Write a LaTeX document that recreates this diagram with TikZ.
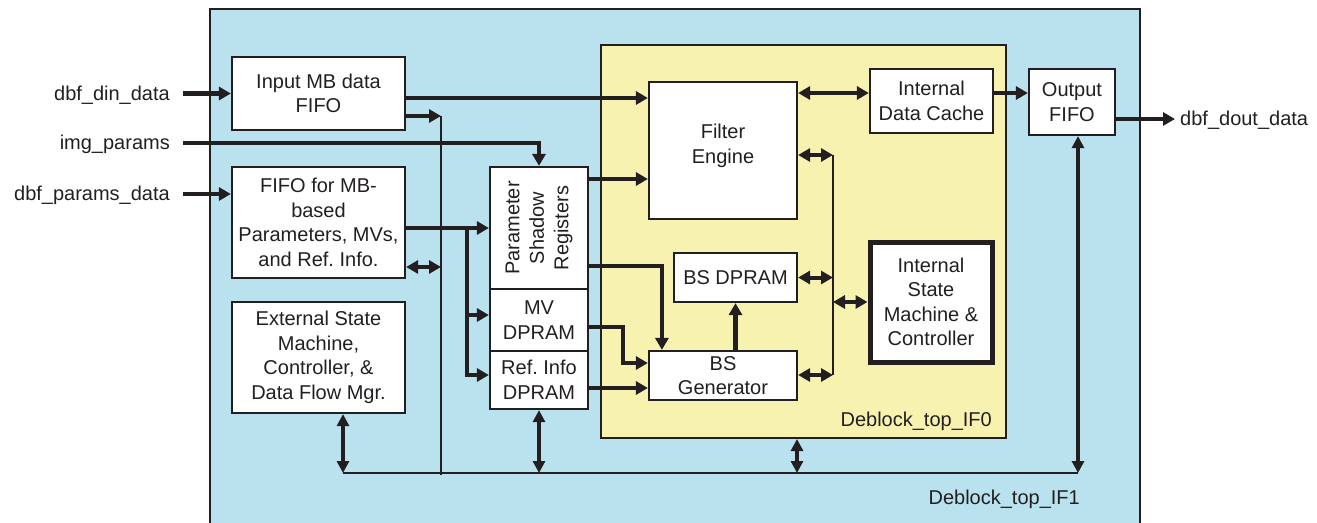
\documentclass[tikz,border=0pt]{standalone}
\usepackage{fontspec}
\setmainfont{Liberation Sans}
\usetikzlibrary{arrows.meta, positioning, calc}
\definecolor{ink}{RGB}{35,31,32}
\definecolor{ifblue}{RGB}{185,226,238}
\definecolor{ifyellow}{RGB}{247,242,176}
\newcommand{\boxfont}{\fontsize{20}{24.5}\selectfont\frenchspacing}
\tikzset{
  box/.style   = {draw=ink, line width=2.2pt, fill=white, align=center,
                  inner sep=0pt, font=\boxfont, text=ink},
  heavy/.style = {box, line width=5pt},
  frame/.style = {draw=ink, line width=2pt, inner sep=0pt},
  sig/.style   = {-{Triangle[length=12pt,width=13pt]}, line width=4.5pt, draw=ink},
  dsig/.style  = {{Triangle[length=12pt,width=13pt]}-{Triangle[length=12pt,width=13pt]},
                  line width=4pt, draw=ink},
  bsig/.style  = {{Triangle[length=12pt,width=12pt]}-{Triangle[length=12pt,width=12pt]},
                  line width=3.2pt, draw=ink},
  wire/.style  = {line width=2.5pt, draw=ink},
  lab/.style   = {font=\boxfont, text=ink, inner sep=0pt},
}

\begin{document}
\begin{tikzpicture}[x=1pt, y=-1pt]
  \useasboundingbox (0,0) rectangle (1317,522);

  % interface frames
  \node[frame, fill=ifblue, minimum width=930, minimum height=530, anchor=north west] (if1) at (209,8) {};
  \node[frame, fill=ifyellow, minimum width=405, minimum height=393, anchor=north west] (if0) at (600,44) {};
  \node[lab, anchor=base east] (if0lab) at (992,426) {Deblock\_top\_IF0};
  \node[lab, anchor=base east] (if1lab) at (1080,504) {Deblock\_top\_IF1};

  % blocks
  \node[box, minimum width=173, minimum height=73] (inmb) at (318.5,93.5) {Input MB data\\FIFO};
  \node[box, minimum width=173, minimum height=111] (mbfifo) at (318.5,222.5)
    {FIFO for MB-\\based\\Parameters, MVs,\\and Ref. Info.};
  \node[box, minimum width=173, minimum height=111] (extsm) at (318.5,357.5)
    {External State\\Machine,\\Controller, \&\\Data Flow Mgr.};
  \node[box, minimum width=98, minimum height=122] (psr) at (539,228) {};
  \node[lab, rotate=90, align=center] (psrtxt) at (psr) {Parameter\\Shadow\\Registers};
  \node[box, minimum width=98, minimum height=62] (mvd) at (539,320) {MV\\DPRAM};
  \node[box, minimum width=98, minimum height=58] (refd) at (539,380) {Ref. Info\\DPRAM};
  \node[box, minimum width=148, minimum height=137] (filt) at (723,150.5) {};
  \node[lab, align=center] (filttxt) at (723,146) {Filter\\Engine};
  \node[box, minimum width=123, minimum height=64] (cache) at (931.5,101) {Internal\\Data Cache};
  \node[box, minimum width=123, minimum height=49] (bsd) at (735.5,277.5) {BS DPRAM};
  \node[box, minimum width=148, minimum height=49] (bsg) at (723,375.5) {BS\\Generator};
  \node[heavy, minimum width=122, minimum height=120] (ism) at (931,302)
    {Internal\\State\\Machine \&\\Controller};
  \node[box, minimum width=86, minimum height=66] (outf) at (1072,102) {Output\\FIFO};

  % ports
  \node[lab, anchor=base east] (dinlab) at (170,100) {dbf\_din\_data};
  \node[lab, anchor=base east] (imglab) at (170,149) {img\_params};
  \node[lab, anchor=base east] (prmlab) at (170,200) {dbf\_params\_data};
  \node[lab, anchor=base west] (doutlab) at (1180,125) {dbf\_dout\_data};
  \coordinate (din) at (183,93.5);
  \coordinate (img) at (183,143);
  \coordinate (prm) at (183,194);

  % bus coordinates
  \coordinate (busL) at (343,473);
  \coordinate (busR) at (1078,473);
  \coordinate (ymid) at (797,473);
  \coordinate (tap) at (441,116);
  \coordinate (br) at (467,228);
  \coordinate (vbT) at (833,155);
  \coordinate (vbB) at (833,375);

  % inputs
  \draw[sig] (din) -- (inmb.west);
  \draw[sig] (img) -| (psr.north);
  \draw[sig] (prm) -- (prm -| mbfifo.west);

  % left side
  \draw[sig] ($(inmb.east)+(0,4.5)$) -- ($(filt.west)+(0,-52.5)$);
  \draw[sig] (inmb.east |- tap) -- (tap);
  \draw[wire] (tap) -- ($(tap |- busL)+(0,2)$);
  \draw[dsig] (mbfifo.east |- 0,267) -- (tap |- 0,267);
  \draw[sig] (mbfifo.east |- psr) -- (psr.west);
  \draw[sig] (br) |- ($(mvd.west)+(0,-5)$);
  \draw[sig] (br) |- ($(refd.west)+(0,-5)$);

  % into the filter
  \draw[sig] (psr.east |- 0,179) -- (filt.west |- 0,179);
  \draw[sig] (psr.east |- 0,266) -| ($(bsg.north west)+(14,0)$);
  \draw[sig] (mvd.east |- 0,327) -- ++(34,0) |- (bsg.west |- 0,363);
  \draw[sig] (refd.east |- 0,388) -- (bsg.west |- 0,388);
  \draw[sig] (bsg.north -| bsd) -- (bsd.south);

  % internal bus
  \draw[wire] (vbT) -- (vbB);
  \draw[dsig] (filt.east |- vbT) -- (vbT);
  \draw[dsig] (bsd.east) -- (bsd.east -| vbT);
  \draw[dsig] (bsg.east |- vbB) -- (vbB);
  \draw[dsig] (ism.west -| vbT) -- (ism.west);

  % output path
  \draw[dsig] (filt.east |- 0,93) -- (cache.west |- 0,93);
  \draw[sig] (cache.east |- 0,93) -- (outf.west |- 0,93);
  \draw[sig] (outf.east |- 0,119) -- ($(doutlab.west |- 0,119)+(-5,0)$);

  % control bus
  \draw[wire] (busL) -- (busR);
  \draw[bsig] (busL |- extsm.south) -- (busL);
  \draw[bsig] (refd.south) -- (refd.south |- busL);
  \draw[bsig] (ymid |- if0.south) -- (ymid);
  \draw[bsig] (busR) -- (busR |- outf.south);
\end{tikzpicture}
\end{document}
